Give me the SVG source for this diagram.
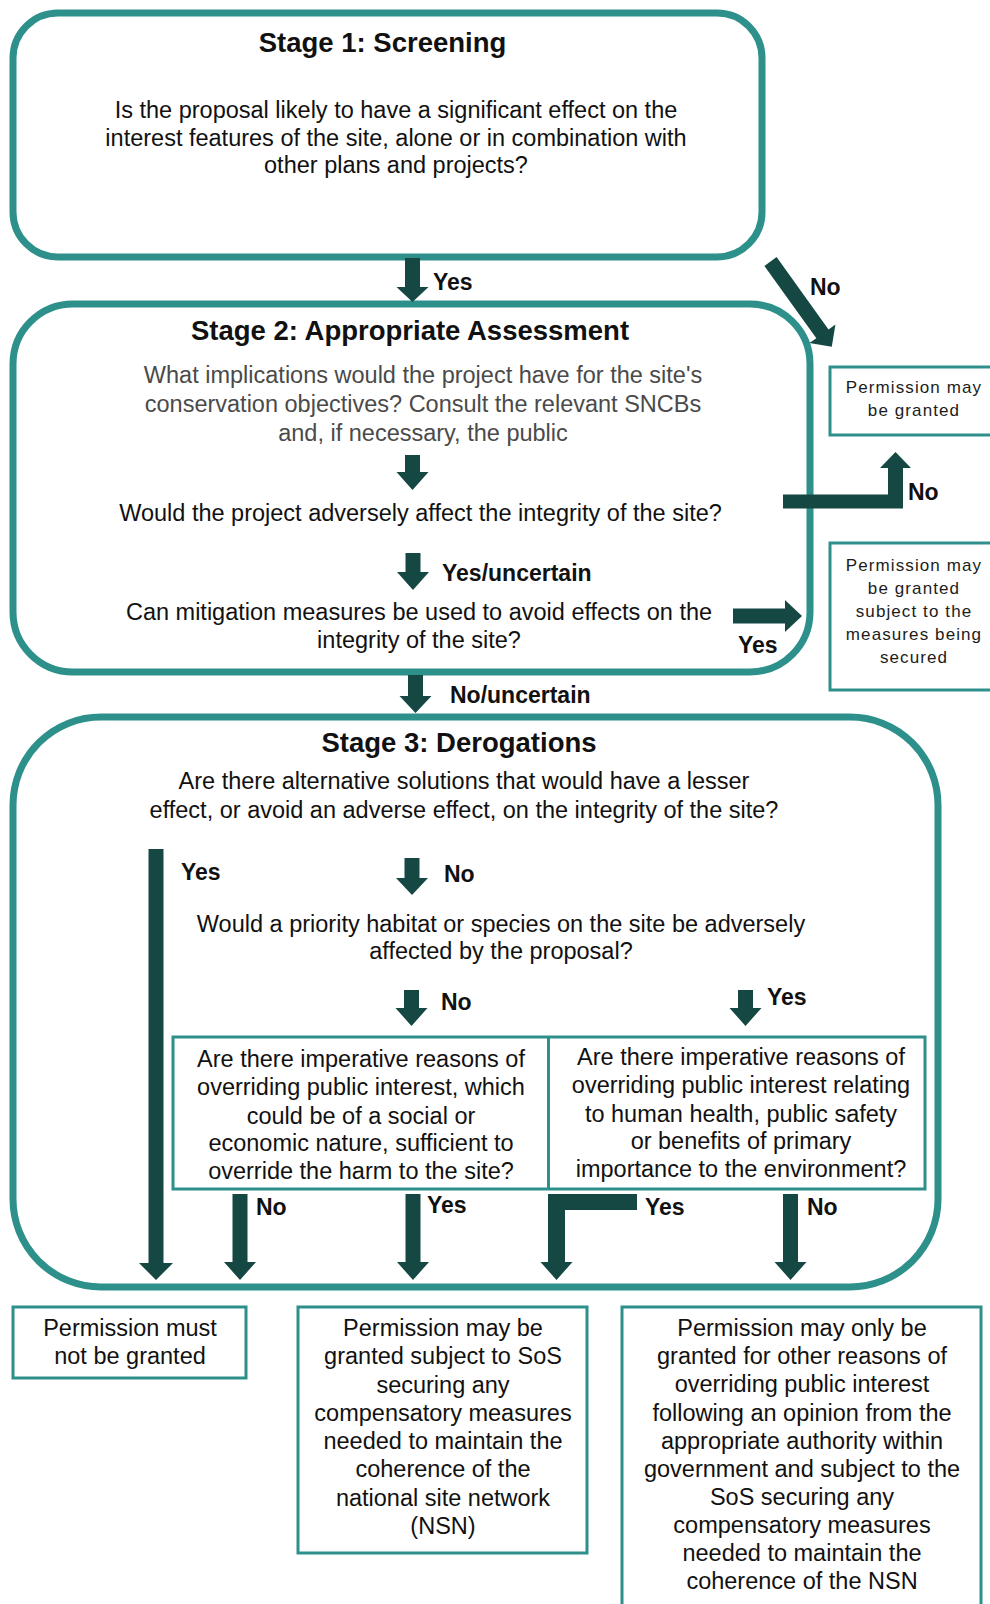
<svg xmlns="http://www.w3.org/2000/svg" width="990" height="1604" viewBox="0 0 990 1604">
<style>
.stage{fill:#fff;stroke:#2e908a;stroke-width:7}
.box{fill:#fff;stroke:#2e908a;stroke-width:3}
.arr{fill:#164843}
text{font-family:"Liberation Sans",Arial,sans-serif;fill:#111}
.t{font-size:27.5px;font-weight:bold;text-anchor:middle}
.b{font-size:23.5px;text-anchor:middle}
.g{fill:#4a4a4a}
.l{font-size:23px;font-weight:bold}
.s{font-size:17px;letter-spacing:1.1px;text-anchor:middle;fill:#1c1c1c}
</style>
<rect width="990" height="1604" fill="#fff"/>

<g id="stage1">
<rect class="stage" x="13" y="13" width="749" height="244" rx="45" ry="45"/>
<text class="t" x="382.5" y="52">Stage 1: Screening</text>
<text class="b" x="396" y="118">Is the proposal likely to have a significant effect on the</text>
<text class="b" x="396" y="146">interest features of the site, alone or in combination with</text>
<text class="b" x="396" y="173">other plans and projects?</text>
</g>

<g id="stage2">
<rect class="stage" x="13" y="304" width="797" height="368" rx="60" ry="60"/>
<text class="t" x="410" y="340">Stage 2: Appropriate Assessment</text>
<text class="b g" x="423" y="383">What implications would the project have for the site's</text>
<text class="b g" x="423" y="412">conservation objectives? Consult the relevant SNCBs</text>
<text class="b g" x="423" y="441">and, if necessary, the public</text>
<text class="b" x="420.5" y="521">Would the project adversely affect the integrity of the site?</text>
<text class="b" x="419" y="620">Can mitigation measures be used to avoid effects on the</text>
<text class="b" x="419" y="648">integrity of the site?</text>
</g>

<g id="granted">
<rect class="box" x="830" y="367" width="170" height="68"/>
<text class="s" x="914" y="393">Permission may</text>
<text class="s" x="914" y="416">be granted</text>
</g>

<g id="granted-subject">
<rect class="box" x="830" y="543" width="170" height="147"/>
<text class="s" x="914" y="571">Permission may</text>
<text class="s" x="914" y="594">be granted</text>
<text class="s" x="914" y="617">subject to the</text>
<text class="s" x="914" y="640">measures being</text>
<text class="s" x="914" y="663">secured</text>
</g>

<g id="stage3">
<rect class="stage" x="13" y="717" width="925" height="570" rx="88" ry="88"/>
<text class="t" x="459" y="752">Stage 3: Derogations</text>
<text class="b" x="464" y="789">Are there alternative solutions that would have a lesser</text>
<text class="b" x="464" y="818">effect, or avoid an adverse effect, on the integrity of the site?</text>
<text class="b" x="501" y="932">Would a priority habitat or species on the site be adversely</text>
<text class="b" x="501" y="959">affected by the proposal?</text>
</g>

<g id="iropi">
<rect class="box" x="173" y="1037" width="752" height="152"/>
<line x1="548.5" y1="1037" x2="548.5" y2="1189" stroke="#2e908a" stroke-width="3"/>
<text class="b" x="361" y="1067">Are there imperative reasons of</text>
<text class="b" x="361" y="1095">overriding public interest, which</text>
<text class="b" x="361" y="1124">could be of a social or</text>
<text class="b" x="361" y="1151">economic nature, sufficient to</text>
<text class="b" x="361" y="1179">override the harm to the site?</text>
<text class="b" x="741" y="1065">Are there imperative reasons of</text>
<text class="b" x="741" y="1093">overriding public interest relating</text>
<text class="b" x="741" y="1122">to human health, public safety</text>
<text class="b" x="741" y="1149">or benefits of primary</text>
<text class="b" x="741" y="1177">importance to the environment?</text>
</g>

<g id="must-not">
<rect class="box" x="13" y="1307" width="233" height="71"/>
<text class="b" x="130" y="1336">Permission must</text>
<text class="b" x="130" y="1364">not be granted</text>
</g>

<g id="compensatory">
<rect class="box" x="298" y="1307" width="289" height="246"/>
<text class="b" x="443" y="1336">Permission may be</text>
<text class="b" x="443" y="1364">granted subject to SoS</text>
<text class="b" x="443" y="1393">securing any</text>
<text class="b" x="443" y="1421">compensatory measures</text>
<text class="b" x="443" y="1449">needed to maintain the</text>
<text class="b" x="443" y="1477">coherence of the</text>
<text class="b" x="443" y="1506">national site network</text>
<text class="b" x="443" y="1534">(NSN)</text>
</g>

<g id="other-reasons">
<rect class="box" x="622" y="1307" width="359" height="320"/>
<text class="b" x="802" y="1336">Permission may only be</text>
<text class="b" x="802" y="1364">granted for other reasons of</text>
<text class="b" x="802" y="1392">overriding public interest</text>
<text class="b" x="802" y="1421">following an opinion from the</text>
<text class="b" x="802" y="1449">appropriate authority within</text>
<text class="b" x="802" y="1477">government and subject to the</text>
<text class="b" x="802" y="1505">SoS securing any</text>
<text class="b" x="802" y="1533">compensatory measures</text>
<text class="b" x="802" y="1561">needed to maintain the</text>
<text class="b" x="802" y="1589">coherence of the NSN</text>
</g>

<g id="connectors">
<path class="arr" d="M405,258 H420 V287 H428.5 L412.5,302 L396.5,287 H405 Z"/>
<path class="arr" transform="translate(770.5,261.5) rotate(-35.7)" d="M-7.5,0 H7.5 V89 H16 L0,105 L-16,89 H-7.5 Z"/>
<path class="arr" d="M405,455 H420 V472 H428.5 L412.5,490 L396.5,472 H405 Z"/>
<path class="arr" d="M405.5,553 H420.5 V572 H429 L413,590 L397,572 H405.5 Z"/>
<path class="arr" d="M733,608.5 H785 V600 L802,616 L785,632 V623.5 H733 Z"/>
<path class="arr" d="M783,494.5 H888 V468 H880 L895.5,452 L911,468 H903 V508.5 H783 Z"/>
<path class="arr" d="M408,675 H423 V696 H431.5 L415.5,713 L399.5,696 H408 Z"/>
<path class="arr" d="M148.5,849 H163.5 V1263 H173 L156,1280 L139,1263 H148.5 Z"/>
<path class="arr" d="M404.5,858 H419.5 V878 H428 L412,895 L396,878 H404.5 Z"/>
<path class="arr" d="M404,990 H419 V1008 H427.5 L411.5,1026 L395.5,1008 H404 Z"/>
<path class="arr" d="M738,990 H753 V1008 H761.5 L745.5,1026 L729.5,1008 H738 Z"/>
<path class="arr" d="M232.5,1194 H247.5 V1262 H256 L240,1280 L224,1262 H232.5 Z"/>
<path class="arr" d="M405.5,1194 H420.5 V1262 H429 L413,1280 L397,1262 H405.5 Z"/>
<path class="arr" d="M548,1194 H637 V1210 H565 V1262 H572.5 L556.5,1280 L540.5,1262 H548 Z"/>
<path class="arr" d="M783,1194 H798 V1262 H806.5 L790.5,1280 L774.5,1262 H783 Z"/>
<text class="l" x="433" y="290">Yes</text>
<text class="l" x="810" y="295">No</text>
<text class="l" x="908" y="500">No</text>
<text class="l" x="442" y="581">Yes/uncertain</text>
<text class="l" x="738" y="653">Yes</text>
<text class="l" x="450" y="703">No/uncertain</text>
<text class="l" x="181" y="880">Yes</text>
<text class="l" x="444" y="882">No</text>
<text class="l" x="441" y="1010">No</text>
<text class="l" x="767" y="1005">Yes</text>
<text class="l" x="256" y="1215">No</text>
<text class="l" x="427" y="1213">Yes</text>
<text class="l" x="645" y="1215">Yes</text>
<text class="l" x="807" y="1215">No</text>
</g>
</svg>
